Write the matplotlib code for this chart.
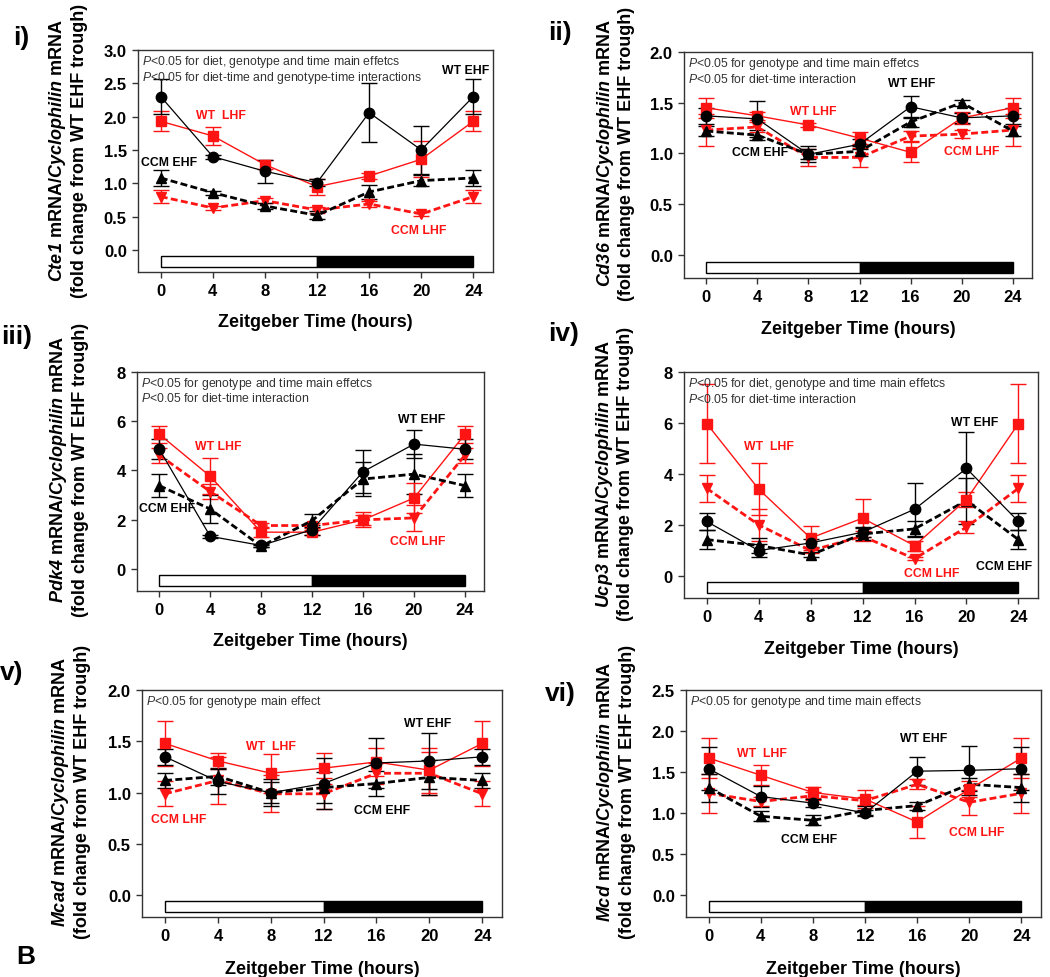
import matplotlib
matplotlib.use("Agg")
import matplotlib.pyplot as plt
import matplotlib.transforms as mtransforms
from matplotlib.patches import Rectangle

plt.rcParams["font.family"] = ["Liberation Sans", "DejaVu Sans"]
plt.rcParams["mathtext.fontset"] = "custom"
plt.rcParams["mathtext.rm"] = "Liberation Sans"
plt.rcParams["mathtext.it"] = "Liberation Sans:italic"
plt.rcParams["mathtext.bf"] = "Liberation Sans:bold"
plt.rcParams["mathtext.bfit"] = "Liberation Sans:italic:bold"

hours = [0, 4, 8, 12, 16, 20, 24]

# i) Cte1
cte1_wt_ehf = [2.30, 1.40, 1.18, 1.01, 2.06, 1.50, 2.30]
cte1_wt_ehf_err = [0.26, 0.03, 0.17, 0.05, 0.44, 0.36, 0.26]
cte1_wt_lhf = [1.93, 1.71, 1.28, 0.95, 1.11, 1.36, 1.93]
cte1_wt_lhf_err = [0.15, 0.14, 0.07, 0.12, 0.05, 0.27, 0.15]
cte1_ccm_ehf = [1.08, 0.86, 0.66, 0.52, 0.87, 1.04, 1.08]
cte1_ccm_ehf_err = [0.12, 0.03, 0.04, 0.06, 0.10, 0.08, 0.12]
cte1_ccm_lhf = [0.80, 0.63, 0.74, 0.60, 0.69, 0.54, 0.80]
cte1_ccm_lhf_err = [0.10, 0.03, 0.04, 0.05, 0.04, 0.03, 0.10]

# ii) Cd36
cd36_wt_ehf = [1.37, 1.34, 0.99, 1.09, 1.46, 1.35, 1.37]
cd36_wt_ehf_err = [0.08, 0.18, 0.08, 0.05, 0.11, 0.05, 0.08]
cd36_wt_lhf = [1.45, 1.37, 1.28, 1.15, 1.01, 1.35, 1.45]
cd36_wt_lhf_err = [0.10, 0.04, 0.02, 0.06, 0.10, 0.06, 0.10]
cd36_ccm_ehf = [1.22, 1.18, 0.99, 1.02, 1.31, 1.50, 1.22]
cd36_ccm_ehf_err = [0.05, 0.05, 0.05, 0.05, 0.05, 0.03, 0.05]
cd36_ccm_lhf = [1.23, 1.26, 0.96, 0.96, 1.17, 1.19, 1.23]
cd36_ccm_lhf_err = [0.16, 0.05, 0.08, 0.09, 0.05, 0.04, 0.16]

# iii) Pdk4
pdk4_wt_ehf = [4.86, 1.32, 0.95, 1.59, 3.95, 5.07, 4.86]
pdk4_wt_ehf_err = [0.40, 0.05, 0.05, 0.20, 0.87, 0.58, 0.40]
pdk4_wt_lhf = [5.47, 3.76, 1.49, 1.49, 1.99, 2.88, 5.47]
pdk4_wt_lhf_err = [0.34, 0.73, 0.20, 0.10, 0.30, 0.60, 0.34]
pdk4_ccm_ehf = [3.38, 2.43, 0.92, 1.96, 3.65, 3.85, 3.38]
pdk4_ccm_ehf_err = [0.47, 0.57, 0.05, 0.25, 0.70, 0.80, 0.47]
pdk4_ccm_lhf = [4.62, 3.14, 1.76, 1.76, 1.99, 2.07, 4.62]
pdk4_ccm_lhf_err = [0.30, 0.30, 0.10, 0.10, 0.20, 0.53, 0.30]

# iv) Ucp3
ucp3_wt_ehf = [2.14, 1.00, 1.30, 1.72, 2.62, 4.22, 2.14]
ucp3_wt_ehf_err = [0.32, 0.25, 0.15, 0.20, 1.03, 1.41, 0.32]
ucp3_wt_lhf = [5.98, 3.41, 1.49, 2.27, 1.19, 3.00, 5.98]
ucp3_wt_lhf_err = [1.56, 1.03, 0.48, 0.74, 0.20, 0.30, 1.56]
ucp3_ccm_ehf = [1.43, 1.20, 0.83, 1.65, 1.85, 2.96, 1.43]
ucp3_ccm_ehf_err = [0.36, 0.30, 0.10, 0.25, 0.30, 0.90, 0.36]
ucp3_ccm_lhf = [3.44, 2.01, 1.00, 1.56, 0.68, 1.92, 3.44]
ucp3_ccm_lhf_err = [0.52, 0.62, 0.10, 0.20, 0.05, 0.25, 0.52]

# v) Mcad
mcad_wt_ehf = [1.35, 1.11, 1.00, 1.09, 1.29, 1.31, 1.35]
mcad_wt_ehf_err = [0.08, 0.12, 0.13, 0.25, 0.24, 0.27, 0.08]
mcad_wt_lhf = [1.48, 1.31, 1.19, 1.24, 1.30, 1.22, 1.48]
mcad_wt_lhf_err = [0.22, 0.08, 0.19, 0.15, 0.14, 0.22, 0.22]
mcad_ccm_ehf = [1.12, 1.16, 1.00, 1.05, 1.09, 1.15, 1.12]
mcad_ccm_ehf_err = [0.07, 0.08, 0.10, 0.15, 0.12, 0.17, 0.07]
mcad_ccm_lhf = [0.99, 1.12, 0.99, 0.99, 1.19, 1.19, 0.99]
mcad_ccm_lhf_err = [0.12, 0.23, 0.18, 0.15, 0.10, 0.21, 0.12]

# vi) Mcd
mcd_wt_ehf = [1.54, 1.20, 1.12, 1.00, 1.51, 1.52, 1.54]
mcd_wt_ehf_err = [0.26, 0.13, 0.05, 0.04, 0.17, 0.30, 0.26]
mcd_wt_lhf = [1.67, 1.46, 1.25, 1.17, 0.89, 1.29, 1.67]
mcd_wt_lhf_err = [0.24, 0.12, 0.07, 0.11, 0.19, 0.10, 0.24]
mcd_ccm_ehf = [1.31, 0.96, 0.91, 1.03, 1.09, 1.35, 1.31]
mcd_ccm_ehf_err = [0.17, 0.06, 0.06, 0.05, 0.05, 0.08, 0.17]
mcd_ccm_lhf = [1.24, 1.14, 1.21, 1.15, 1.35, 1.13, 1.24]
mcd_ccm_lhf_err = [0.24, 0.06, 0.05, 0.05, 0.06, 0.15, 0.24]

RED = "#ff1414"
EDGE = "#333333"

fig = plt.figure(figsize=(10.5, 9.78), dpi=100)


def panel(rect, gene, series, ylim, yticks, fmt, notes, labels, ylab_y):
    ax = fig.add_axes(rect)
    # order: CCM LHF, CCM EHF, WT LHF, WT EHF (WT EHF on top)
    ccm_lhf, ccm_lhf_err, ccm_ehf, ccm_ehf_err, wt_lhf, wt_lhf_err, wt_ehf, wt_ehf_err = series
    ax.errorbar(hours, ccm_lhf, yerr=ccm_lhf_err, color=RED, marker="v", ms=7,
                lw=2.0, ls=(0, (2.5, 1.2)), elinewidth=1, capsize=6, capthick=1)
    ax.errorbar(hours, ccm_ehf, yerr=ccm_ehf_err, color="black", marker="^", ms=7,
                lw=2.0, ls=(0, (2.5, 1.2)), elinewidth=1, capsize=6, capthick=1)
    ax.errorbar(hours, wt_lhf, yerr=wt_lhf_err, color=RED, marker="s", ms=7.5,
                lw=1.0, elinewidth=1, capsize=6, capthick=1)
    ax.errorbar(hours, wt_ehf, yerr=wt_ehf_err, color="black", marker="o", ms=7.5,
                lw=0.9, elinewidth=1, capsize=6, capthick=1)

    ax.set_xlim(-1.75, 25.5)
    ax.set_ylim(*ylim)
    ax.set_xticks(hours)
    ax.set_yticks(yticks)
    ax.set_yticklabels([fmt % v for v in yticks])
    for lab in ax.get_xticklabels() + ax.get_yticklabels():
        lab.set_fontweight("bold")
    ax.tick_params(direction="out", length=4, width=1, labelsize=12, color=EDGE, pad=4)
    for sp in ax.spines.values():
        sp.set_color(EDGE)
        sp.set_linewidth(1)

    # light / dark bar
    trans = mtransforms.blended_transform_factory(ax.transData, ax.transAxes)
    ax.add_patch(Rectangle((0, 0.022), 12, 0.05, transform=trans, facecolor="white",
                           edgecolor="black", lw=1))
    ax.add_patch(Rectangle((12, 0.022), 12, 0.05, transform=trans, facecolor="black",
                           edgecolor="black", lw=1))

    for i, line in enumerate(notes):
        ax.text(0.012, 0.985 - i * 0.072, line, transform=ax.transAxes, fontsize=8.8,
                color="#333333", va="top", ha="left")

    for txt, x, y, col in labels:
        ax.text(x, y, txt, color=col, fontsize=8.8, fontweight="bold", ha="center", va="center")

    ax.text(-0.198, ylab_y,
            r"$\mathbfit{" + gene + r"}$ mRNA/$\mathbfit{Cyclophilin}$ mRNA" + "\n(fold change from WT EHF trough)",
            transform=ax.transAxes, rotation=90, ha="center", va="center",
            fontsize=13, fontweight="bold", linespacing=1.2)
    ax.text(0.5, -0.225, "Zeitgeber Time (hours)", transform=ax.transAxes,
            ha="center", va="center", fontsize=13, fontweight="bold")
    return ax


panel([0.1314, 0.7209, 0.338, 0.227], "Cte1",
      [cte1_ccm_lhf, cte1_ccm_lhf_err, cte1_ccm_ehf, cte1_ccm_ehf_err,
       cte1_wt_lhf, cte1_wt_lhf_err, cte1_wt_ehf, cte1_wt_ehf_err],
      (-0.33, 3.0), [0, 0.5, 1.0, 1.5, 2.0, 2.5, 3.0], "%.1f",
      [r"$\mathit{P}$<0.05 for diet, genotype and time main effetcs",
       r"$\mathit{P}$<0.05 for diet-time and genotype-time interactions"],
      [("WT EHF", 23.4, 2.70, "black"), ("WT  LHF", 4.6, 2.02, RED),
       ("CCM EHF", 0.6, 1.32, "black"), ("CCM LHF", 19.8, 0.30, RED)], 0.55)

panel([0.6514, 0.7147, 0.3314, 0.2311], "Cd36",
      [cd36_ccm_lhf, cd36_ccm_lhf_err, cd36_ccm_ehf, cd36_ccm_ehf_err,
       cd36_wt_lhf, cd36_wt_lhf_err, cd36_wt_ehf, cd36_wt_ehf_err],
      (-0.23, 2.0), [0, 0.5, 1.0, 1.5, 2.0], "%.1f",
      [r"$\mathit{P}$<0.05 for genotype and time main effetcs",
       r"$\mathit{P}$<0.05 for diet-time interaction"],
      [("WT EHF", 16.1, 1.69, "black"), ("WT LHF", 8.4, 1.42, RED),
       ("CCM EHF", 4.2, 1.01, "black"), ("CCM LHF", 20.8, 1.02, RED)], 0.555)

panel([0.1305, 0.3947, 0.3305, 0.2239], "Pdk4",
      [pdk4_ccm_lhf, pdk4_ccm_lhf_err, pdk4_ccm_ehf, pdk4_ccm_ehf_err,
       pdk4_wt_lhf, pdk4_wt_lhf_err, pdk4_wt_ehf, pdk4_wt_ehf_err],
      (-0.9, 8.0), [0, 2, 4, 6, 8], "%d",
      [r"$\mathit{P}$<0.05 for genotype and time main effetcs",
       r"$\mathit{P}$<0.05 for diet-time interaction"],
      [("WT EHF", 20.6, 6.1, "black"), ("WT LHF", 4.6, 5.0, RED),
       ("CCM EHF", 0.6, 2.48, "black"), ("CCM LHF", 20.3, 1.14, RED)], 0.557)

panel([0.6514, 0.3875, 0.3371, 0.2311], "Ucp3",
      [ucp3_ccm_lhf, ucp3_ccm_lhf_err, ucp3_ccm_ehf, ucp3_ccm_ehf_err,
       ucp3_wt_lhf, ucp3_wt_lhf_err, ucp3_wt_ehf, ucp3_wt_ehf_err],
      (-0.86, 8.0), [0, 2, 4, 6, 8], "%d",
      [r"$\mathit{P}$<0.05 for diet, genotype and time main effetcs",
       r"$\mathit{P}$<0.05 for diet-time interaction"],
      [("WT EHF", 20.6, 6.04, "black"), ("WT  LHF", 4.8, 5.1, RED),
       ("CCM LHF", 17.3, 0.12, RED), ("CCM EHF", 22.9, 0.4, "black")], 0.553)

panel([0.1352, 0.0613, 0.3429, 0.2321], "Mcad",
      [mcad_ccm_lhf, mcad_ccm_lhf_err, mcad_ccm_ehf, mcad_ccm_ehf_err,
       mcad_wt_lhf, mcad_wt_lhf_err, mcad_wt_ehf, mcad_wt_ehf_err],
      (-0.21, 2.0), [0, 0.5, 1.0, 1.5, 2.0], "%.1f",
      [r"$\mathit{P}$<0.05 for genotype main effect"],
      [("WT EHF", 19.9, 1.68, "black"), ("WT  LHF", 8.0, 1.46, RED),
       ("CCM LHF", 1.0, 0.74, RED), ("CCM EHF", 16.4, 0.83, "black")], 0.555)

panel([0.6533, 0.0613, 0.3381, 0.2321], "Mcd",
      [mcd_ccm_lhf, mcd_ccm_lhf_err, mcd_ccm_ehf, mcd_ccm_ehf_err,
       mcd_wt_lhf, mcd_wt_lhf_err, mcd_wt_ehf, mcd_wt_ehf_err],
      (-0.27, 2.5), [0, 0.5, 1.0, 1.5, 2.0, 2.5], "%.1f",
      [r"$\mathit{P}$<0.05 for genotype and time main effects"],
      [("WT EHF", 16.5, 1.91, "black"), ("WT  LHF", 4.1, 1.73, RED),
       ("CCM EHF", 7.7, 0.68, "black"), ("CCM LHF", 20.6, 0.77, RED)], 0.555)

# panel letters
for txt, x, y in [("i)", 21, 38), ("ii)", 560, 33), ("iii)", 17, 337),
                  ("iv)", 564, 334), ("v)", 12, 673), ("vi)", 560, 694), ("B", 26, 957)]:
    fig.text(x / 1050, 1 - y / 978, txt, fontsize=19, fontweight="bold",
             ha="center", va="center")

fig.savefig("out.png", dpi=100)
